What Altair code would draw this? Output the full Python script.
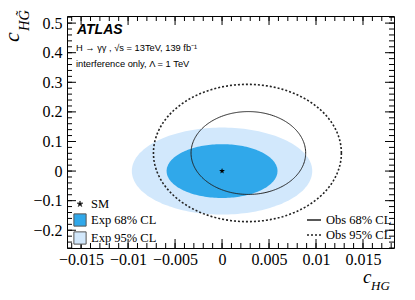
import altair as alt
import pandas as pd

# ---- values ----
# expected contours (centred on the SM point)
exp_names = ["Exp 68% CL", "Exp 95% CL"]
exp_cx = [0.0, 0.0]
exp_cy = [0.0, 0.0]
exp_ax = [0.0059, 0.0096]   # half-width in c_HG
exp_ay = [0.091, 0.147]     # half-height in c_HG~

# observed contours
obs_names = ["Obs 68% CL", "Obs 95% CL"]
obs_cx = [0.0028, 0.0027]
obs_cy = [0.061, 0.061]
obs_ax = [0.0061, 0.0100]
obs_ay = [0.140, 0.232]

# SM point
sm_x = [0.0]
sm_y = [0.0]
sm_name = ["SM"]

# axes
x_domain = [-0.0165, 0.0183]
y_domain = [-0.26, 0.524]
x_major = [-0.015, -0.01, -0.005, 0, 0.005, 0.01, 0.015]
y_major = [-0.2, -0.1, 0, 0.1, 0.2, 0.3, 0.4, 0.5]
x_minor = [round(-0.016 + 0.001 * i, 3) for i in range(35)]
y_minor = [round(-0.26 + 0.02 * i, 2) for i in range(40)]

legend_domain = ["SM", "Exp 68% CL", "Exp 95% CL"]
legend_colors = ["black", "#30a8ea", "#d2e8fc"]

W, H = 327, 232
SERIF = "Liberation Serif"
SANS = "Liberation Sans"
STAR = ("M0,-0.5L0.118,-0.162L0.476,-0.155L0.19,0.062L0.294,0.405L0,0.2"
        "L-0.294,0.405L-0.19,0.062L-0.476,-0.155L-0.118,-0.162Z")

xs = alt.Scale(domain=x_domain, nice=False, zero=False)
ys = alt.Scale(domain=y_domain, nice=False, zero=False)
cscale = alt.Scale(domain=legend_domain, range=legend_colors)
sscale = alt.Scale(domain=legend_domain, range=[STAR, "square", "square"])
dscale = alt.Scale(domain=obs_names, range=[[1, 0], [2, 2]])

label_x_axis = alt.Axis(orient="bottom", values=x_major, format="~g", ticks=False,
                        domain=False, grid=False, title=None, labelFont=SERIF,
                        labelFontSize=16, labelColor="black", labelPadding=3)
label_y_axis = alt.Axis(orient="left", values=y_major, format="~g", ticks=False,
                        domain=False, grid=False, title=None, labelFont=SERIF,
                        labelFontSize=16, labelColor="black", labelPadding=5)

exp_legend = alt.Legend(title=None, orient="none", legendX=6, legendY=181, padding=0,
                        symbolSize=150, rowPadding=0, labelFont=SERIF, labelFontSize=12.5,
                        labelColor="black", labelOffset=4, symbolStrokeColor="#555555",
                        symbolStrokeWidth=1)
obs_legend = alt.Legend(title=None, orient="none", legendX=239, legendY=196, padding=0,
                        symbolType="stroke", symbolSize=196, rowPadding=0, labelFont=SERIF,
                        labelFontSize=12.5, labelColor="black", labelOffset=4,
                        symbolStrokeColor="#222222", symbolStrokeWidth=1.3)


def exp_area(i, xaxis=None, yaxis=None):
    cx, cy, ax, ay = exp_cx[i], exp_cy[i], exp_ax[i], exp_ay[i]
    return alt.Chart(alt.sequence(0, 181, 2, as_="deg")).transform_calculate(
        t="datum.deg * PI / 180",
        name=f"'{exp_names[i]}'",
    ).transform_calculate(
        x=f"{cx} + {ax} * cos(datum.t)",
        y=f"{cy} + {ay} * sin(datum.t)",
        y2=f"{cy} - {ay} * sin(datum.t)",
    ).mark_area(opacity=1).encode(
        x=alt.X("x:Q", scale=xs, axis=xaxis),
        y=alt.Y("y:Q", scale=ys, axis=yaxis, stack=None),
        y2="y2:Q",
        color=alt.Color("name:N", scale=cscale, legend=exp_legend),
    )


def obs_line(i, width):
    cx, cy, ax, ay = obs_cx[i], obs_cy[i], obs_ax[i], obs_ay[i]
    return alt.Chart(alt.sequence(0, 362, 2, as_="deg")).transform_calculate(
        t="datum.deg * PI / 180",
        name=f"'{obs_names[i]}'",
    ).transform_calculate(
        x=f"{cx} + {ax} * cos(datum.t)",
        y=f"{cy} + {ay} * sin(datum.t)",
    ).mark_line(color="#222222", strokeWidth=width).encode(
        x=alt.X("x:Q", scale=xs, axis=None),
        y=alt.Y("y:Q", scale=ys, axis=None),
        order=alt.Order("deg:Q"),
        strokeDash=alt.StrokeDash("name:N", scale=dscale, legend=obs_legend),
    )


def x_ticks(values, length):
    base = alt.Chart(pd.DataFrame({"v": values})).mark_tick(
        color="black", thickness=1, size=length, opacity=1)
    xenc = alt.X("v:Q", scale=xs, axis=None)
    return [base.encode(x=xenc, y=alt.value(H - length / 2)),
            base.encode(x=xenc, y=alt.value(length / 2))]


def y_ticks(values, length):
    base = alt.Chart(pd.DataFrame({"v": values})).mark_tick(
        color="black", thickness=1, size=length, opacity=1)
    yenc = alt.Y("v:Q", scale=ys, axis=None)
    return [base.encode(y=yenc, x=alt.value(length / 2)),
            base.encode(y=yenc, x=alt.value(W - length / 2))]


layer_exp95 = exp_area(1, label_x_axis, label_y_axis)
layer_exp68 = exp_area(0)
layer_obs68 = obs_line(0, 1)
layer_obs95 = obs_line(1, 1.6)

sm_df = pd.DataFrame({"x": sm_x, "y": sm_y, "name": sm_name})
layer_sm = alt.Chart(sm_df).mark_point(filled=True, opacity=1, size=150).encode(
    x=alt.X("x:Q", scale=xs, axis=None),
    y=alt.Y("y:Q", scale=ys, axis=None),
    color=alt.Color("name:N", scale=cscale, legend=exp_legend),
    shape=alt.Shape("name:N", scale=sscale, legend=exp_legend),
)

ticks = x_ticks(x_minor, 5) + x_ticks(x_major, 9) + y_ticks(y_minor, 5) + y_ticks(y_major, 9)

one = alt.Data(values=[{}])


def label(text, x, y, **kw):
    return alt.Chart(one).mark_text(text=text, align="left", baseline="alphabetic", **kw).encode(
        x=alt.value(x), y=alt.value(y))


texts = [
    label("ATLAS", 10, 18, font=SANS, fontSize=14, fontWeight="bold", fontStyle="italic", color="black"),
    label("H \u2192 \u03b3\u03b3 , \u221as = 13TeV, 139 fb\u207b\u00b9", 9, 34.5, font=SANS, fontSize=9.3, color="black"),
    label("interference only,  \u039b = 1 TeV", 9, 50.5, font=SANS, fontSize=9.3, color="black"),
    label("c", 296, 267, font=SERIF, fontSize=19, fontStyle="italic", color="black"),
    label("HG", 304, 274, font=SERIF, fontSize=13, fontStyle="italic", color="black"),
    label("c", -48, 26, font=SERIF, fontSize=22, fontStyle="italic", color="black", angle=270),
    label("HG\u0303", -38.5, 15, font=SERIF, fontSize=14.5, fontStyle="italic", color="black", angle=270),
]

chart = alt.layer(
    layer_exp95, layer_exp68, layer_obs68, layer_obs95, layer_sm, *ticks, *texts
).resolve_axis(
    x="independent", y="independent"
).properties(
    width=W, height=H,
    autosize=alt.AutoSizeParams(type="none"),
    padding={"left": 59, "top": 8, "right": 12, "bottom": 44},
).configure_view(stroke="black", strokeWidth=1)

chart.save("out.html", embed_options={"renderer": "svg", "actions": False})
